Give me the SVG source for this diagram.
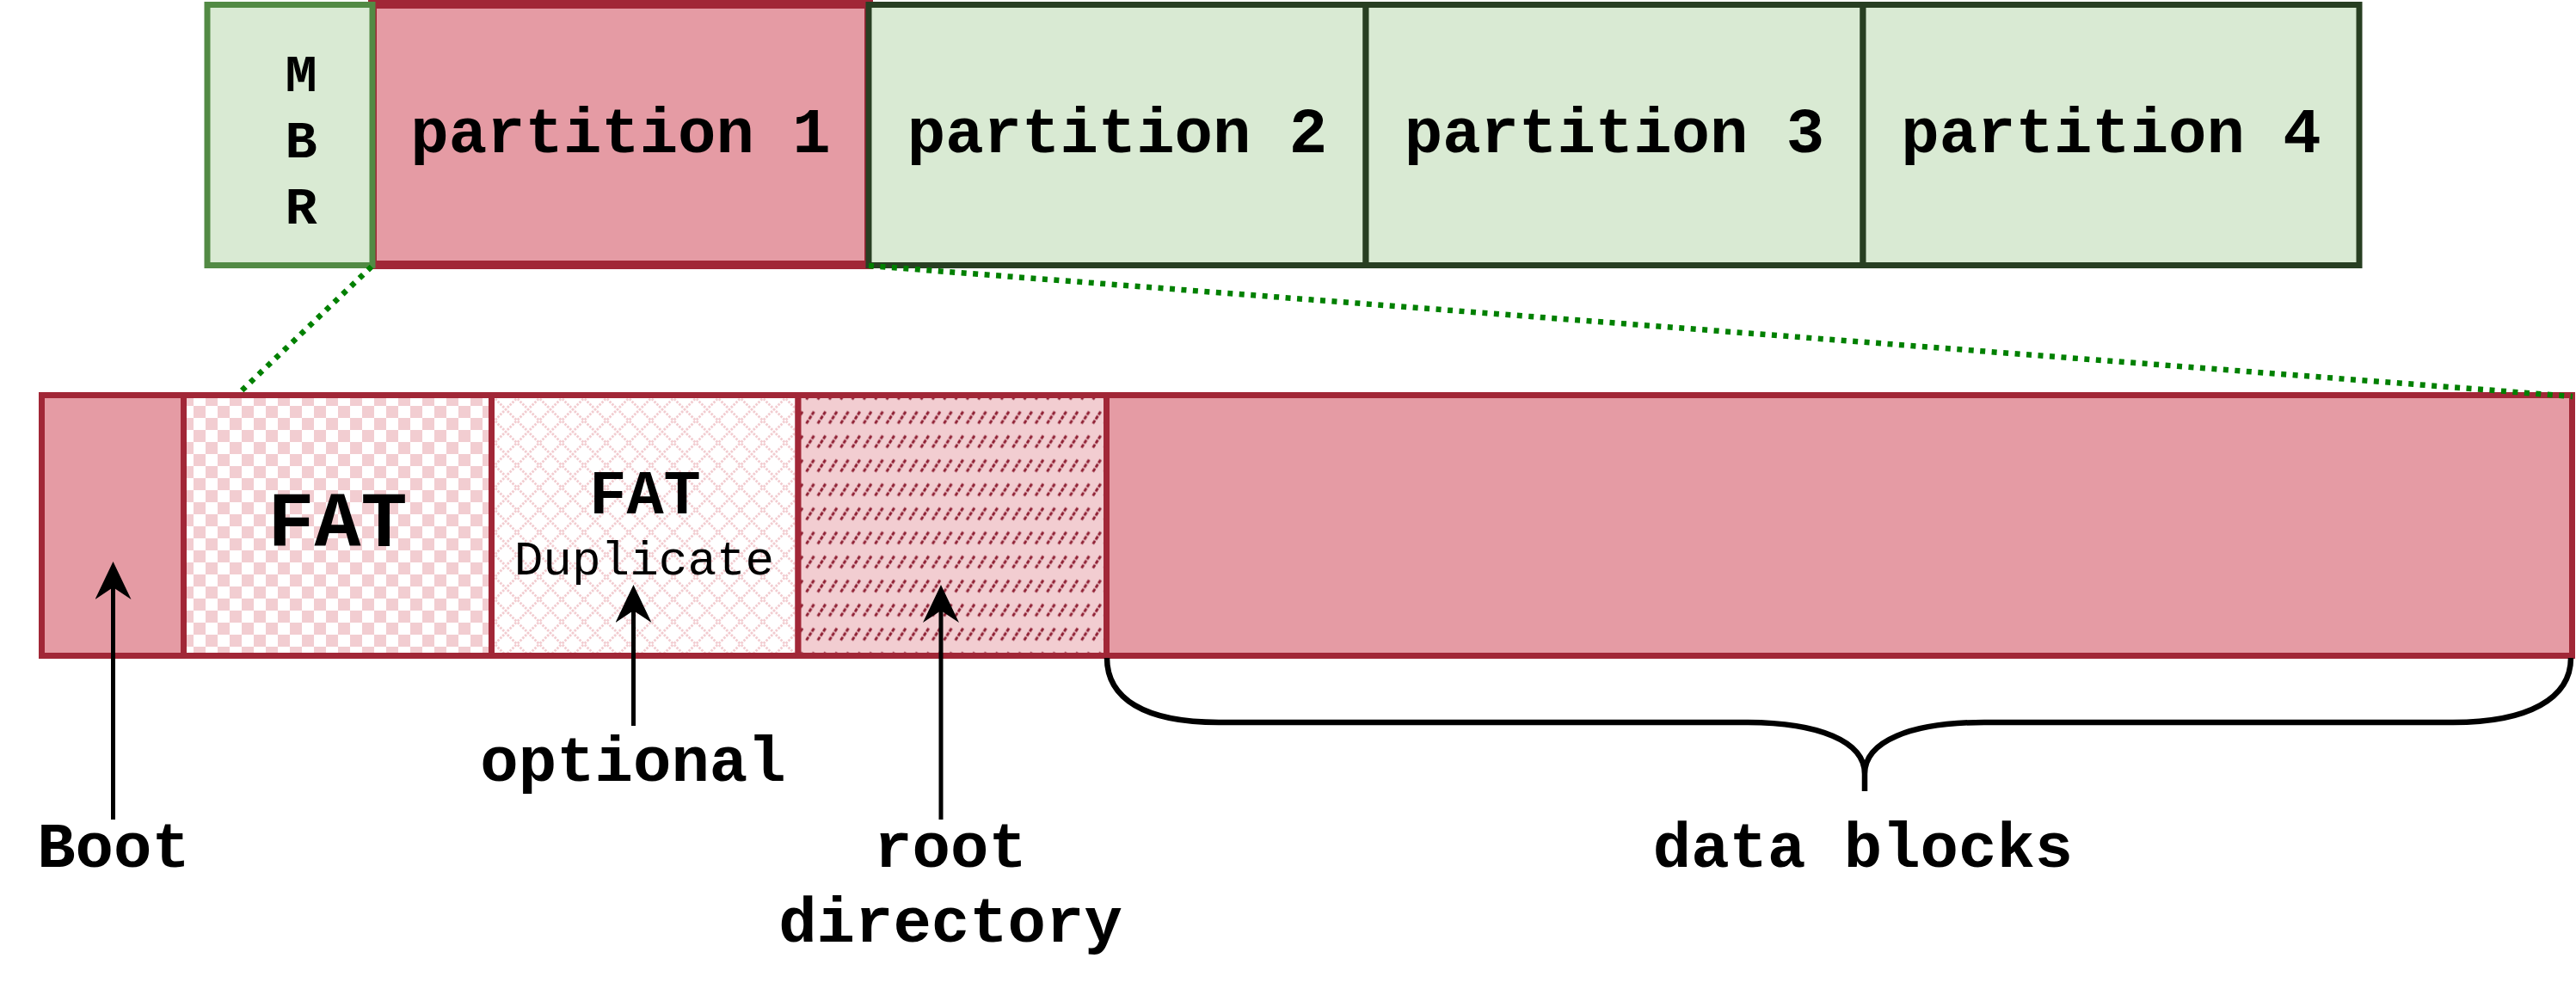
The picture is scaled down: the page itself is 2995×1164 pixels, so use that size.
<svg xmlns="http://www.w3.org/2000/svg" width="2995" height="1164" viewBox="0 0 2995 1164">
<style>
.t{font-family:"Courier New","Liberation Mono",monospace;font-weight:bold;fill:#000;text-anchor:middle}
.red{fill:#e59ba4;stroke:#a12737;stroke-width:7}
.grn{fill:#d9ead3;stroke:#283f22;stroke-width:7}
.dot{stroke:#008000;stroke-width:6.5;stroke-dasharray:6 7.5;fill:none}
.arr{stroke:#000;stroke-width:5;fill:none;marker-end:url(#arrow)}
</style>
<defs>
<marker id="arrow" viewBox="0 0 44 42" refX="14" refY="21" markerWidth="44" markerHeight="42" markerUnits="userSpaceOnUse" orient="auto">
<path d="M0,0 L44,21 L0,42 L14,21 Z" fill="#000"/>
</marker>
<pattern id="checker" patternUnits="userSpaceOnUse" x="225" y="472" width="28" height="28">
<rect width="28" height="28" fill="#fff"/>
<rect width="14" height="14" fill="#f2cdd1"/>
<rect x="14" y="14" width="14" height="14" fill="#f2cdd1"/>
</pattern>
<pattern id="diamond" patternUnits="userSpaceOnUse" x="575" y="463" width="26" height="26">
<rect width="26" height="26" fill="#fff"/>
<path d="M-2,-2 L28,28 M28,-2 L-2,28" stroke="#f2cbcf" stroke-width="2.8" stroke-dasharray="2.5 1.5"/>
</pattern>
<pattern id="slash" patternUnits="userSpaceOnUse" x="936" y="471.5" width="13.33" height="28">
<rect width="13.33" height="28" fill="#f2cdd1"/>
<path d="M1.5,21 L10.5,7" stroke="#8e1f33" stroke-width="3" stroke-dasharray="4.5 1.5"/>
</pattern>
</defs>

<g id="partition1">
<rect x="433" y="5" width="577" height="303" fill="#e59ba4" stroke="#a12737" stroke-width="10"/>
<text class="t" x="721.5" y="177" font-size="74">partition 1</text>
</g>
<g id="partition2">
<rect class="grn" x="1010" y="5.5" width="578" height="303"/>
<text class="t" x="1299" y="177" font-size="74">partition 2</text>
</g>
<g id="partition3">
<rect class="grn" x="1588" y="5.5" width="578" height="303"/>
<text class="t" x="1877" y="177" font-size="74">partition 3</text>
</g>
<g id="partition4">
<rect class="grn" x="2166" y="5.5" width="577" height="303"/>
<text class="t" x="2454.5" y="177" font-size="74">partition 4</text>
</g>
<g id="mbr">
<rect x="241" y="5.5" width="192" height="303" fill="#d9ead3" stroke="#528a44" stroke-width="7"/>
<text class="t" x="350" y="106" font-size="62">M</text>
<text class="t" x="350" y="183" font-size="62">B</text>
<text class="t" x="350" y="260" font-size="62">R</text>
</g>

<g id="boot">
<rect class="red" x="48.5" y="459.5" width="165" height="303"/>
</g>
<g id="fat">
<rect x="213.5" y="459.5" width="358" height="303" fill="url(#checker)" stroke="#a12737" stroke-width="7"/>
<text class="t" x="392.5" y="635" font-size="90">FAT</text>
</g>
<g id="fat-duplicate">
<rect x="571.5" y="459.5" width="356.5" height="303" fill="url(#diamond)" stroke="#a12737" stroke-width="7"/>
<text class="t" x="750" y="597" font-size="72">FAT</text>
<text class="t" x="749" y="668" font-size="56" style="font-weight:normal">Duplicate</text>
</g>
<g id="root-directory">
<rect x="928" y="459.5" width="358.5" height="303" fill="url(#slash)" stroke="#a12737" stroke-width="7"/>
</g>
<g id="data">
<rect class="red" x="1286.5" y="459.5" width="1704" height="303"/>
</g>

<g id="labels">
<text class="t" x="132" y="1008" font-size="74">Boot</text>
<text class="t" x="736" y="908" font-size="74">optional</text>
<text class="t" x="1105" y="1008" font-size="74">root</text>
<text class="t" x="1105" y="1095" font-size="74">directory</text>
<text class="t" x="2166" y="1008" font-size="74">data blocks</text>
</g>

<g id="connectors">
<line class="dot" x1="432" y1="310" x2="277" y2="458"/>
<line class="dot" x1="1010" y1="309" x2="2991" y2="461"/>
<line class="arr" x1="131.5" y1="953" x2="131.5" y2="683"/>
<line class="arr" x1="736.5" y1="844" x2="736.5" y2="710"/>
<line class="arr" x1="1094" y1="953" x2="1094" y2="710"/>
<path d="M1287,765 C1287,812 1330,840 1417,840 L2029,840 C2115,840 2168,862 2168,900 L2168,920 M2168,900 C2168,862 2221,840 2307,840 L2852,840 C2940,840 2989,812 2989,765" fill="none" stroke="#000" stroke-width="6.5"/>
</g>
</svg>
